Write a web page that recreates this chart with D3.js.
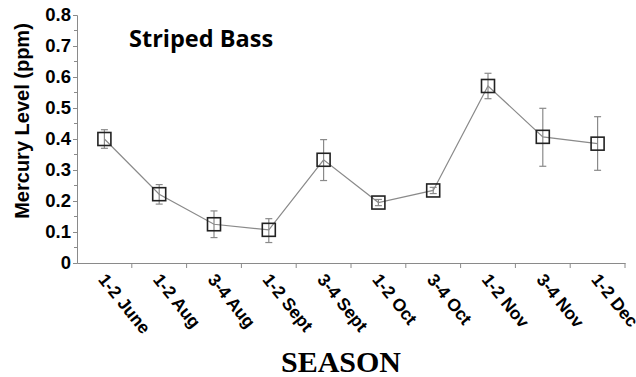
<!DOCTYPE html>
<meta charset="utf-8">
<script src="https://cdn.jsdelivr.net/npm/d3@7"></script>
<style>
body{margin:0;background:#fff}
svg{display:block}
</style>
<body>
<script>
// data
var seasons = ["1-2 June", "1-2 Aug", "3-4 Aug", "1-2 Sept", "3-4 Sept", "1-2 Oct", "3-4 Oct", "1-2 Nov", "3-4 Nov", "1-2 Dec"];
var mercury = [0.400, 0.222, 0.125, 0.107, 0.333, 0.195, 0.234, 0.571, 0.407, 0.385];
var errLow  = [0.370, 0.190, 0.082, 0.066, 0.266, 0.185, 0.224, 0.530, 0.312, 0.299];
var errHigh = [0.430, 0.253, 0.168, 0.143, 0.398, 0.205, 0.244, 0.612, 0.499, 0.472];
var yTicks = [0, 0.1, 0.2, 0.3, 0.4, 0.5, 0.6, 0.7, 0.8];

var W = 636, H = 377;
var m = {left: 77, right: 625, top: 15, bottom: 263};

var svg = d3.select("body").append("svg").attr("width", W).attr("height", H);

var x = d3.scaleBand().domain(seasons).range([m.left, m.right]);
var y = d3.scaleLinear().domain([0, 0.8]).range([m.bottom, m.top]);

var grey = "#8a8a8a";

// y axis
var yAxis = svg.append("g").attr("transform", "translate(" + m.left + ",0)")
    .call(d3.axisLeft(y).tickValues(yTicks).tickSize(4).tickFormat(function(d){ return d === 0 ? "0" : d3.format(".1f")(d); }));
yAxis.select(".domain").attr("stroke", grey);
yAxis.selectAll(".tick line").attr("stroke", grey);
yAxis.selectAll(".tick text")
    .attr("font-family", "Liberation Sans, Arial, sans-serif")
    .attr("font-weight", "bold").attr("font-size", 18.5).attr("fill", "#000").attr("x", -6);
// minor ticks
svg.append("g").selectAll("line").data(d3.range(0.05, 0.8, 0.1)).enter().append("line")
    .attr("x1", m.left - 3).attr("x2", m.left).attr("y1", y).attr("y2", y).attr("stroke", grey);

// x axis
var xAxis = svg.append("g").attr("transform", "translate(0," + m.bottom + ")")
    .call(d3.axisBottom(x).tickSize(0).tickSizeOuter(0));
xAxis.select(".domain").attr("stroke", grey);
xAxis.selectAll(".tick text").remove();
svg.append("g").selectAll("line").data(seasons).enter().append("line")
    .attr("x1", function(d){ return x(d) + x.bandwidth(); })
    .attr("x2", function(d){ return x(d) + x.bandwidth(); })
    .attr("y1", m.bottom).attr("y2", m.bottom + 5).attr("stroke", grey);

svg.append("g").selectAll("text").data(seasons).enter().append("text")
    .attr("transform", function(d){ return "translate(" + (x(d) + x.bandwidth() / 2 - 7) + "," + (m.bottom + 17) + ") rotate(51)"; })
    .attr("font-family", "Liberation Sans, Arial, sans-serif")
    .attr("font-weight", "bold").attr("font-size", 17.5)
    .text(function(d){ return d; });

// line
var cx = function(d, i){ return x(seasons[i]) + x.bandwidth() / 2; };
svg.append("path").datum(mercury)
    .attr("fill", "none").attr("stroke", grey).attr("stroke-width", 1.2)
    .attr("d", d3.line().x(cx).y(function(d){ return y(d); }));

// error bars
var eb = svg.append("g").attr("stroke", grey).attr("stroke-width", 1.2);
mercury.forEach(function(v, i){
    var px = cx(v, i);
    eb.append("line").attr("x1", px).attr("x2", px).attr("y1", y(errLow[i])).attr("y2", y(errHigh[i]));
    eb.append("line").attr("x1", px - 3.5).attr("x2", px + 3.5).attr("y1", y(errLow[i])).attr("y2", y(errLow[i]));
    eb.append("line").attr("x1", px - 3.5).attr("x2", px + 3.5).attr("y1", y(errHigh[i])).attr("y2", y(errHigh[i]));
});

// markers
svg.append("g").selectAll("rect").data(mercury).enter().append("rect")
    .attr("x", function(d, i){ return cx(d, i) - 6.5; })
    .attr("y", function(d){ return y(d) - 6.5; })
    .attr("width", 13).attr("height", 13)
    .attr("fill", "none").attr("stroke", "#222").attr("stroke-width", 1.6);

// titles
svg.append("text").attr("x", 129).attr("y", 47)
    .attr("font-family", "Open Sans, sans-serif").attr("font-weight", 700).attr("font-size", 23.5)
    .text("Striped Bass");

svg.append("text").attr("transform", "translate(29,121) rotate(-90)")
    .attr("text-anchor", "middle")
    .attr("font-family", "Liberation Sans, Arial, sans-serif")
    .attr("font-weight", "bold").attr("font-size", 20)
    .text("Mercury Level (ppm)");

svg.append("text").attr("x", 341).attr("y", 372).attr("text-anchor", "middle")
    .attr("font-family", "Liberation Serif, Times New Roman, serif")
    .attr("font-weight", "bold").attr("font-size", 30)
    .text("SEASON");
</script>
</body>
